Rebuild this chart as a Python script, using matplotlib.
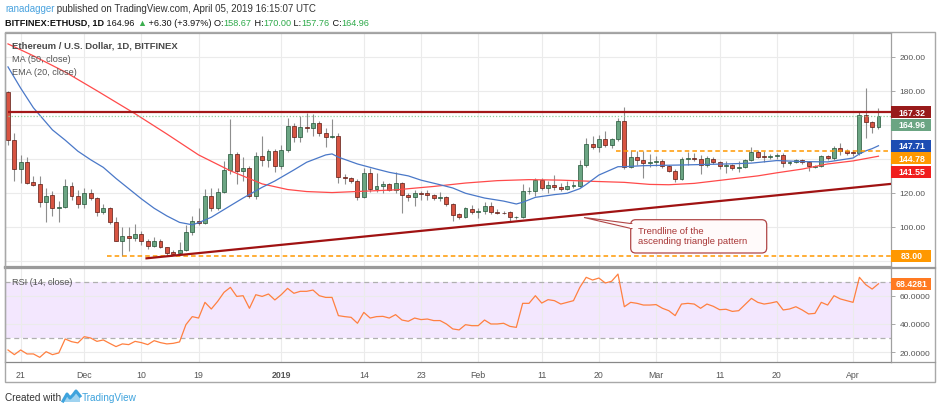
import numpy as np
import pandas as pd
import matplotlib
matplotlib.use("Agg")
import matplotlib.pyplot as plt
from matplotlib.patches import Rectangle, FancyBboxPatch, Polygon
from matplotlib.lines import Line2D
from matplotlib.transforms import IdentityTransform

# ---------------- data ----------------
start_date = "2018-11-19"
opens = [179, 151, 134, 138, 126.4, 125, 114.5, 118.6, 111, 111.6, 124.3, 118.4,
         113.5, 119.8, 117, 109, 111, 102.7, 92, 94.7, 93.3, 96, 92, 88.8, 91.6, 88, 85.2, 84.5,
         86.5, 97, 103.7, 102.2, 118.4, 111.2, 120.8, 133.5, 142.9, 133.1, 134.5, 118.4, 141.9, 139.5, 144.4,
         135.6, 145.2, 159.5, 152.7, 158.5, 158.1, 160.9, 155, 152.7, 153.3, 129.5, 128.7, 127.2, 117.8,
         131.5, 122.3, 124.3, 125.3, 121.7, 125.8, 119, 117.4, 120, 120.2, 118.8, 117, 117.4, 113.5, 107.6,
         106, 110.6,
         108.6, 109.1, 112.5, 108.6, 108.3, 108.6, 105.7, 105.7, 121, 121, 127.6, 122.9, 124.8, 123.7,
         122.3, 124, 124.3, 136.4, 148.7, 146.8, 151.7, 148.3, 151.7, 162.1, 135.4, 140.9, 139.3, 137.5,
         138, 138.5, 135.6, 133.1, 128.2, 139.7, 140.7, 140.1, 136.4, 139.9, 138, 135.6, 136.2, 134.5,
         135, 139.3, 143.9, 141.7, 140.9, 141.7, 142.4, 137.4, 138.4, 139.6, 138, 135.4, 135.9, 141.5,
         140.3, 146.2, 144.6,
         143.8, 143.3, 165.8, 161.5, 158.67]
highs = [180, 155, 142, 141, 130, 130, 123, 121, 115.5, 128, 126.5, 121.5,
         123, 122.5, 117.5, 113.5, 112, 105.7, 100, 100, 102, 97.5, 93, 94.3, 93, 88.5, 86.3, 91,
         101, 106.3, 111, 122.3, 123, 123, 139, 163.4, 144, 141.3, 136, 144, 153.6, 146, 146,
         148, 164, 161, 165.4, 167, 166.4, 162, 158, 163.4, 155, 131, 129.5, 128, 134.5,
         134.5, 131.5, 127, 126, 132, 126.5, 120, 121.5, 121, 122, 119.5, 120.5, 118, 114, 108.5,
         112, 113,
         111, 114.5, 114.5, 110.5, 109.5, 109.5, 106.5, 125.3, 123.5, 128.5, 128.5, 127, 130.7, 126,
         127, 127, 139.3, 152.3, 153.6, 154.2, 156.2, 152.5, 164, 170.3, 145, 144.5, 144.5, 143,
         141.5, 140, 136.5, 134, 141, 143.9, 143.5, 142, 141.5, 141, 139, 138.5, 137,
         138.6, 140, 147.2, 145, 144.5, 143, 143.5, 143.5, 139, 140, 140, 138.5, 136.5, 142,
         142.5, 147.5, 149.6, 145.5,
         145, 168, 181.5, 162.5, 170.0]
lows = [148, 127, 126, 125.5, 124, 111.5, 103, 106.5, 103, 111, 116, 111,
        111, 115.8, 106.5, 107.5, 102, 91.5, 83, 86, 92, 89.5, 87, 88, 87.5, 83, 83.3, 84,
        86, 95, 101, 101.5, 109.6, 110, 120, 131, 125.3, 127, 117, 116.5, 136, 135, 132.5,
        134, 144, 150, 149.7, 155.6, 153.6, 153.5, 147, 152, 126, 125, 126, 116, 117,
        120.4, 120.5, 119.8, 121, 120, 108, 115, 112.5, 116, 116, 116, 115.5, 112.5, 103.7, 104.5,
        105, 107.5,
        105.5, 107.8, 107.5, 107.5, 107.5, 102.7, 104.5, 105, 119.5, 118, 121.5, 119.8, 121.5, 121,
        121.5, 123, 123.5, 135, 145.5, 143.9, 147, 146.4, 150.5, 134, 134.5, 136.5, 129, 135.5,
        136, 134.5, 132, 126.2, 127.5, 136.5, 138.5, 131, 135.5, 137, 134, 131.5, 133.5,
        132, 134.5, 138.5, 140.5, 138, 140, 140, 135.4, 136.5, 137.5, 137, 133, 134.5, 135,
        139.5, 139.5, 142.5, 142.5,
        141.5, 142.5, 152.3, 155.4, 157.76]
closes = [151, 134, 138, 126, 124.8, 114.5, 118.4, 111, 112, 124.3, 118.4, 113.5,
          119.8, 117, 109, 111, 102.7, 92, 94.7, 93.3, 96, 92, 88.8, 91.6, 88, 84.7, 84.2, 86.5,
          97, 103.7, 102.2, 118.4, 111.2, 120.8, 133.5, 142.9, 133.1, 134.5, 118.4, 141.9, 139.5, 144.4, 135.6,
          145.2, 159.5, 152.7, 158.5, 158.1, 160.9, 155, 152.7, 153.3, 129.5, 128.5, 127.1, 117.8, 131.5,
          122.3, 124.3, 125.3, 121.7, 125.8, 119, 117.4, 120, 119.3, 119.0, 117, 117.4, 113.5, 107.2, 106,
          111, 108.6,
          109.2, 112.5, 108.6, 108.3, 108, 105.7, 105.9, 121, 121.3, 127.6, 122.9, 124.8, 123.7, 122.3,
          124.3, 124.8, 136.4, 148.7, 146.8, 151.7, 148.3, 151.7, 162.1, 135.4, 141.3, 139.3, 137.3, 138,
          139, 135.6, 133.1, 128.2, 139.7, 140.3, 139.7, 136.4, 140.5, 138, 135.6, 136.2, 134.5,
          135.4, 139.3, 143.9, 141.3, 140.9, 141.7, 142.4, 137.4, 138.4, 139.6, 138, 135.6, 135.9, 141.5,
          140.7, 146.2, 144.5, 143.6,
          143.3, 165.8, 161.5, 158.66, 164.96]

rsi = [21.6, 18.3, 21.6, 18.8, 18.8, 16.4, 20.4, 18.3, 19.5, 29.4, 27.5, 26.6, 31.0, 30.1, 27.7, 28.7, 26.3,
       24.0, 25.9, 25.4, 27.7, 26.8, 25.4, 28.2, 26.8, 25.9, 26.3, 27.3,
       39.5, 45.2, 44.2, 55.3, 50.6, 56.0, 62.4, 65.9, 59.5, 60.0, 51.1, 60.7, 59.5, 61.2, 57.0,
       60.7, 65.2, 61.7, 63.1, 63.1, 64.0, 60.0, 58.8, 58.8,
       45.9, 45.2, 44.7, 40.5, 48.2, 44.2, 45.2, 45.4, 44.2, 46.6, 42.8, 41.9, 44.2, 43.1, 43.5, 42.4,
       42.4, 40.0, 36.5, 35.8, 39.5,
       38.8, 38.8, 42.8, 40.0, 40.0, 40.5, 38.3, 37.6, 54.6, 54.6, 60.0, 54.8, 57.2, 56.5, 54.1, 55.3,
       56.5, 65.9, 73.0, 71.1, 72.5, 69.0, 70.2, 75.3, 52.2, 55.3, 54.6, 53.4, 53.4, 53.7, 51.1, 49.4,
       45.9, 54.1, 54.6, 54.1, 51.1, 54.1, 52.5, 50.1, 50.4, 48.9, 49.4, 53.7, 58.1, 55.3, 54.1, 54.8,
       55.8, 49.9, 50.6, 52.2, 49.9, 47.1, 47.5, 55.3, 53.4, 60.0, 57.7, 56.5, 55.3, 73.0, 67.8, 64.7,
       68.4281]

# moving averages at sample days (day index from start)
ma_days = [0, 4, 9, 14, 20, 25, 30, 35, 40, 44, 47, 51, 56, 61, 67, 72, 77, 82, 87, 92, 97,
           101, 104, 108, 113, 118, 121, 125, 129, 133, 137]
ma_vals = [207.5, 200.5, 191, 180, 166.5, 154.6, 142.3, 133, 125.3, 122, 120.8, 120.2, 121, 121.8,
           123.8, 125.8, 127.2, 127.8, 127.5, 126.8, 126.2, 125, 124.8, 125.6, 127.8, 130, 131.8, 134,
           137, 138.8, 141.55]
ema_days = [0, 2, 4, 7, 9, 11, 13, 15, 17, 19, 21, 23, 25, 27, 29, 30, 32, 35, 37, 40, 42, 45, 47,
            50, 51, 52, 55, 58, 60, 63, 65, 68, 70, 72, 75, 78, 80, 81, 83, 86, 88, 90, 91, 93, 96,
            97, 100, 106, 113, 117, 121, 125, 129, 133, 134, 135, 136, 137]
ema_vals = [194, 181.5, 170, 157, 151, 144.5, 139.5, 135, 128.5, 122.5, 116.5, 111, 106.5, 102.7,
            101.3, 102.5, 105.7, 112.5, 117, 123.3, 127, 133.5, 138, 142.3, 142.9, 141, 137, 134,
            132.1, 130, 127.5, 124.8, 122.9, 119.8, 117, 115.2, 113.5, 114.5, 117.4, 119, 119.8,
            122.5, 125, 130.5, 135.4, 135.4, 136, 136.4, 137, 137.5, 139, 138.4, 138.2, 140.5,
            142.9, 144.7, 146, 147.71]

resistance = 167.32
support_mid = 144.78
support_low = 83.00
support_mid_from = 95.7
support_low_from = 15.6
trend_x = [21.8, 138.97]
trend_y = [81.6, 125.3]

tick_dates = ["2018-11-21", "2018-12-01", "2018-12-10", "2018-12-19", "2019-01-01", "2019-01-14",
              "2019-01-23", "2019-02-01", "2019-02-11", "2019-02-20", "2019-03-01", "2019-03-11",
              "2019-03-20", "2019-04-01"]
tick_labels = ["21", "Dec", "10", "19", "2019", "14", "23", "Feb", "11", "20", "Mar", "11", "20", "Apr"]
price_ticks = [80, 100, 120, 140, 160, 180, 200]
price_hidden = [80, 140, 160]          # covered by the price labels in the original
rsi_ticks = [20, 40, 60]

# ---------------- figure ----------------
W, H = 939, 410
plt.rcParams['font.family'] = ['Liberation Sans', 'DejaVu Sans']
fig = plt.figure(figsize=(W / 100, H / 100), dpi=100, facecolor='white')


def fx(x):
    return x / W


def fy(y):
    return 1 - y / H


def disp(x, y):
    return (x, H - y)


ax = fig.add_axes([fx(5), fy(268), fx(891) - fx(5), fy(34) - fy(268)])
axr = fig.add_axes([fx(5), fy(363), fx(891) - fx(5), fy(269) - fy(363)], sharex=ax)

o = np.array(opens, float)
h = np.array(highs, float)
l = np.array(lows, float)
c = np.array(closes, float)
n = len(c)
x = np.arange(n)
dates = pd.date_range(start_date, periods=n, freq="D")
XMIN, XMAX = -0.47, 138.97

# candles
up = c >= o
ax.vlines(x, l, h, color='#8e8e8e', lw=0.8, zorder=2)
bb = np.minimum(o, c)
bh = np.maximum(np.abs(c - o), 0.35)
ax.bar(x[up], bh[up], bottom=bb[up], width=0.62, color='#6ba583', edgecolor='#225437',
       linewidth=0.5, zorder=3)
ax.bar(x[~up], bh[~up], bottom=bb[~up], width=0.62, color='#d75442', edgecolor='#5b1a13',
       linewidth=0.5, zorder=3)

# indicators
ax.plot(ma_days, ma_vals, color='#ff4a4a', lw=0.9, zorder=4)
ax.plot(ema_days, ema_vals, color='#4a78c8', lw=0.9, zorder=4)

# drawings
ax.hlines(resistance, 0, XMAX, color='#a31818', lw=1.6, zorder=5)
ax.hlines(c[-1], 0, XMAX, color='#8fcf9f', lw=0.9, linestyles=(0, (1, 1.5)), zorder=5)
ax.hlines(support_mid, support_mid_from, XMAX, color='#ff9800', lw=1.1, linestyles=(0, (3, 2)), zorder=5)
ax.hlines(support_low, support_low_from, XMAX, color='#ff9800', lw=1.1, linestyles=(0, (3, 2)), zorder=5)
ax.plot(trend_x, trend_y, color='#a01212', lw=1.6, zorder=5)

ax.set_xlim(XMIN, XMAX)
ax.set_ylim(76.5, 213.9)

tick_idx = [dates.get_loc(pd.Timestamp(d)) for d in tick_dates]
for a in (ax, axr):
    a.set_xticks(tick_idx)
    a.grid(True, color='#ebebeb', lw=0.8, zorder=0)
    a.set_axisbelow(True)
    a.yaxis.tick_right()
    a.tick_params(axis='y', which='both', direction='out', length=3, width=0.6, colors='#9a9a9a',
                  labelcolor='#555555', labelsize=6, pad=3)
    a.tick_params(axis='x', length=0)
ax.set_yticks(price_ticks)
ax.set_yticklabels(["" if v in price_hidden else f"{v:.2f}" for v in price_ticks])
ax.tick_params(axis='x', labelbottom=False)

axr.set_xticklabels(tick_labels)
axr.tick_params(axis='x', labelsize=6.3, labelcolor='#555555', pad=6)
for t, s in zip(axr.get_xticklabels(), tick_labels):
    if s == "2019":
        t.set_fontweight('bold')

# RSI
axr.axhspan(30, 70, color='#f3e7fe', zorder=0, lw=0)
axr.axhline(70, color='#b0b0b0', lw=0.9, ls=(0, (4, 3)), zorder=1)
axr.axhline(30, color='#b0b0b0', lw=0.9, ls=(0, (4, 3)), zorder=1)
axr.plot(x, rsi, color='#ff8040', lw=0.9, zorder=3)
axr.set_ylim(13.1, 79.6)
axr.set_yticks(rsi_ticks)
axr.set_yticklabels([f"{v:.4f}" for v in rsi_ticks])

for a in (ax, axr):
    for s in a.spines.values():
        s.set_color('#a0a0a0')
        s.set_linewidth(0.9)
ax.spines['bottom'].set_linewidth(1.6)
ax.spines['bottom'].set_color('#9a9a9a')
axr.spines['top'].set_linewidth(1.6)
axr.spines['top'].set_color('#9a9a9a')
axr.spines['bottom'].set_color('#888888')

# outer frame
fig.patches.append(Rectangle(disp(5, 383), 930, 350, transform=IdentityTransform(), fill=False,
                             edgecolor='#a8a8a8', lw=1.0, zorder=1))
for yy, lw_ in ((268.5, 1.6), (363, 0.9)):
    fig.lines.append(Line2D([891, 935], [H - yy, H - yy], transform=IdentityTransform(),
                            color='#9a9a9a', lw=lw_, zorder=2))


# price labels on right axis
def price_label(axis, value, text, color, shift=0.0):
    yd = axis.transData.transform((0, value))[1] - shift
    fig.patches.append(Rectangle((891, yd - 6), 40, 12, transform=IdentityTransform(),
                                 facecolor=color, edgecolor='none', zorder=10))
    fig.text(fx(912), yd / H, text, ha='center', va='center', color='white', fontsize=6.3,
             fontweight='bold', zorder=11)


price_label(ax, resistance, f"{resistance:.2f}", '#981a1a')
price_label(ax, c[-1], f"{c[-1]:.2f}", '#6ba583', 8.6)
price_label(ax, ema_vals[-1], f"{ema_vals[-1]:.2f}", '#1d4db3')
price_label(ax, support_mid, f"{support_mid:.2f}", '#ff9800', 7.3)
price_label(ax, ma_vals[-1], f"{ma_vals[-1]:.2f}", '#f01e1e', 15.3)
price_label(ax, support_low, f"{support_low:.2f}", '#ff9800')
price_label(axr, rsi[-1], f"{rsi[-1]:.4f}", '#ff7a22')

# legends
fig.text(fx(12), fy(46), "Ethereum / U.S. Dollar, 1D, BITFINEX", fontsize=6.8, fontweight='bold',
         color='#4a4a4a', va='center', ha='left', zorder=6)
fig.text(fx(12), fy(59.3), "MA (50, close)", fontsize=6.6, color='#555555', va='center', zorder=6)
fig.text(fx(12), fy(72.3), "EMA (20, close)", fontsize=6.6, color='#555555', va='center', zorder=6)
fig.text(fx(12), fy(282.7), "RSI (14, close)", fontsize=6.6, color='#555555', va='center', zorder=6)

# callout
fig.patches.append(FancyBboxPatch((630.7, H - 254), 136, 33.3, boxstyle="round,pad=0,rounding_size=5",
                                  transform=IdentityTransform(), facecolor='#fffafa',
                                  edgecolor='#b04646', lw=0.9, zorder=7))
fig.patches.append(Polygon([disp(584, 218.5), disp(632, 224.7), disp(632, 229.7)], closed=True,
                           transform=IdentityTransform(), facecolor='#fffafa', edgecolor='#b04646',
                           lw=0.8, zorder=8))
fig.patches.append(Rectangle(disp(630, 229.2), 3, 4, transform=IdentityTransform(),
                             facecolor='#fffafa', edgecolor='none', zorder=8.5))
fig.text(fx(638), fy(232), "Trendline of the", fontsize=6.8, color='#a83636', va='center', zorder=9)
fig.text(fx(638), fy(241.7), "ascending triangle pattern", fontsize=6.8, color='#a83636',
         va='center', zorder=9)

# header
renderer = fig.canvas.get_renderer()


def seq(x0, y0, parts, size):
    xx = x0
    for t, col, wt in parts:
        tx = fig.text(fx(xx), fy(y0), t, color=col, fontweight=wt, fontsize=size, va='center', ha='left')
        xx += tx.get_window_extent(renderer).width


seq(5, 8.5, [("ranadagger", '#4aa3df', 'normal'),
             (" published on TradingView.com, April 05, 2019 16:15:07 UTC", '#333333', 'normal')], 7.05)
chg = c[-1] - c[-2]
pct = chg / c[-2] * 100
seq(5, 23, [("BITFINEX:ETHUSD, 1D", '#111111', 'bold'),
            (f" {c[-1]:.2f} ", '#111111', 'normal'),
            ("▲", '#3cae4f', 'normal'),
            (f" +{chg:.2f} (+{pct:.2f}%) O:", '#111111', 'normal'),
            (f"{o[-1]:.2f}", '#2eaa4a', 'normal'),
            (" H:", '#111111', 'normal'),
            (f"{h[-1]:.2f}", '#2eaa4a', 'normal'),
            (" L:", '#111111', 'normal'),
            (f"{l[-1]:.2f}", '#2eaa4a', 'normal'),
            (" C:", '#111111', 'normal'),
            (f"{c[-1]:.2f}", '#2eaa4a', 'normal')], 6.6)

# footer
fig.text(fx(5), fy(398), "Created with", fontsize=7.2, color='#333333', va='center')
fig.lines.append(Line2D([63, 67, 70, 73, 76, 80], [H - 402, H - 395, H - 399, H - 396, H - 392, H - 397],
                        transform=IdentityTransform(), color='#3ea3dd', lw=2.2, zorder=3))
fig.patches.append(Polygon([disp(63, 403), disp(67, 396), disp(70, 400), disp(73, 397), disp(76, 393),
                            disp(80, 398), disp(80, 403)], closed=True, transform=IdentityTransform(),
                           facecolor='#9fd3f0', edgecolor='none', zorder=2))
fig.text(fx(81.5), fy(398), "TradingView", fontsize=7.2, color='#3ea3dd', va='center')

fig.savefig("out.png", dpi=100, facecolor='white')
